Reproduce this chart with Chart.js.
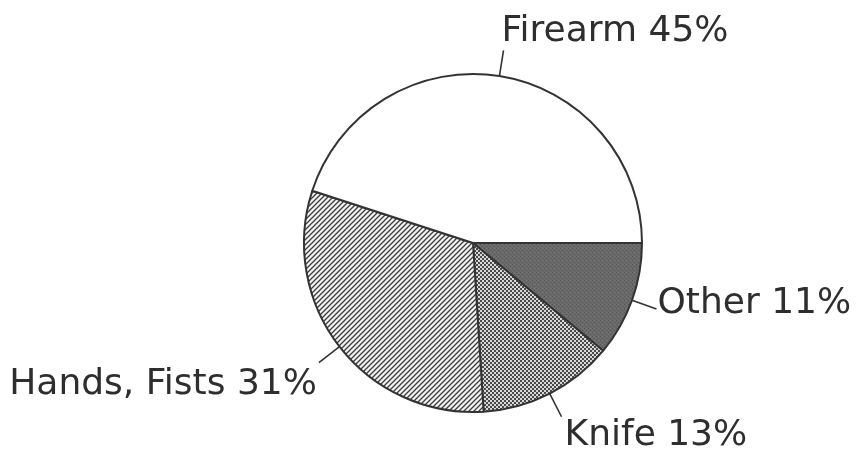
<!DOCTYPE html>
<html>
<head>
<meta charset="utf-8">
<script src="https://cdn.jsdelivr.net/npm/chart.js@4"></script>
<style>
  html, body { margin: 0; padding: 0; background: #fff; }
  #wrap { width: 860px; height: 460px; position: relative; }
</style>
</head>
<body>
<div id="wrap"><canvas id="pie"></canvas></div>
<script>
// data, clockwise from 3 o'clock
const categories = ["Other", "Knife", "Hands, Fists", "Firearm"];
const shares = [11, 13, 31, 45];

// small canvas patterns to mimic the printed textures
function makePattern(size, draw) {
    const c = document.createElement("canvas");
    c.width = size; c.height = size;
    const g = c.getContext("2d");
    draw(g, size);
    return g.createPattern(c, "repeat");
}

const ctx0 = document.getElementById("pie").getContext("2d");

const darkFill = makePattern(4, (g, s) => {
    g.fillStyle = "#6a6a6a"; g.fillRect(0, 0, s, s);
    g.fillStyle = "#545454"; g.fillRect(0, 0, 1, 1); g.fillRect(2, 2, 1, 1);
    g.fillStyle = "#7a7a7a"; g.fillRect(2, 0, 1, 1);
});
const checkFill = makePattern(4, (g, s) => {
    g.fillStyle = "#d8d8d8"; g.fillRect(0, 0, s, s);
    g.fillStyle = "#4a4a4a";
    g.fillRect(0, 0, 2, 2); g.fillRect(2, 2, 2, 2);
});
const hatchFill = makePattern(5, (g, s) => {
    g.fillStyle = "#f2f2f2"; g.fillRect(0, 0, s, s);
    g.strokeStyle = "#3c3c3c"; g.lineWidth = 1.3;
    g.beginPath();
    g.moveTo(-1, s + 1); g.lineTo(s + 1, -1);
    g.moveTo(-1, 1); g.lineTo(1, -1);
    g.moveTo(s - 1, s + 1); g.lineTo(s + 1, s - 1);
    g.stroke();
});

// outside labels with short radial leader lines
const leaderLabels = {
    id: "leaderLabels",
    afterDatasetsDraw(chart) {
        const ctx = chart.ctx;
        const arcs = chart.getDatasetMeta(0).data;
        ctx.save();
        ctx.strokeStyle = "#333";
        ctx.lineWidth = 1.6;
        ctx.fillStyle = "#2e2e2e";
        ctx.font = "36px 'DejaVu Sans'";
        arcs.forEach((arc, i) => {
            const p = arc.getProps(["x", "y", "startAngle", "endAngle", "outerRadius"], true);
            const mid = (p.startAngle + p.endAngle) / 2;
            const r0 = p.outerRadius;
            const r1 = r0 + 26;
            const x0 = p.x + Math.cos(mid) * r0, y0 = p.y + Math.sin(mid) * r0;
            const x1 = p.x + Math.cos(mid) * r1, y1 = p.y + Math.sin(mid) * r1;
            ctx.beginPath(); ctx.moveTo(x0, y0); ctx.lineTo(x1, y1); ctx.stroke();
            const text = categories[i] + " " + shares[i] + "%";
            const cosA = Math.cos(mid), sinA = Math.sin(mid);
            if (sinA < -0.5) {
                ctx.textAlign = "left"; ctx.textBaseline = "alphabetic";
                ctx.fillText(text, x1 - 2, y1 - 9);
            } else if (cosA > 0.7) {
                ctx.textAlign = "left"; ctx.textBaseline = "middle";
                ctx.fillText(text, x1 + 1, y1 - 5);
            } else if (cosA > 0) {
                ctx.textAlign = "left"; ctx.textBaseline = "top";
                ctx.fillText(text, x1 + 3, y1 + 1);
            } else {
                ctx.textAlign = "right"; ctx.textBaseline = "middle";
                ctx.fillText(text, x1 - 2, y1 + 22);
            }
        });
        ctx.restore();
    }
};

new Chart(ctx0, {
    type: "pie",
    data: {
        labels: categories,
        datasets: [{
            data: shares,
            backgroundColor: [darkFill, checkFill, hatchFill, "#ffffff"],
            borderColor: "#333",
            borderWidth: 2
        }]
    },
    options: {
        responsive: true,
        maintainAspectRatio: false,
        animation: false,
        rotation: 90,
        layout: { padding: { left: 303, right: 217, top: 73, bottom: 47 } },
        plugins: {
            legend: { display: false },
            tooltip: { enabled: false }
        }
    },
    plugins: [leaderLabels]
});
</script>
</body>
</html>
